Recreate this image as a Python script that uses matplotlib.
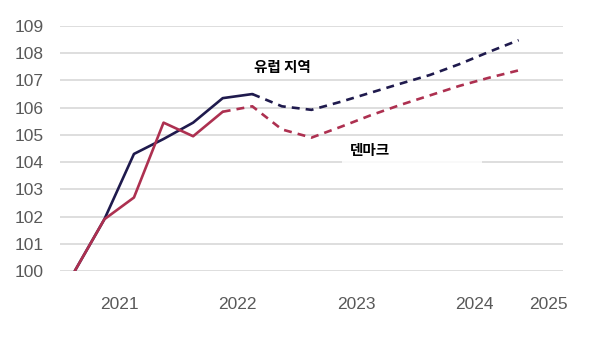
import matplotlib
matplotlib.use("Agg")
import matplotlib.pyplot as plt
from matplotlib.patches import Rectangle

# Quarterly index (2021 Q1 = 100), 2021 Q1 .. 2024 Q4; the 2025 slot is kept empty
quarters = [f"{y}Q{q}" for y in (2021, 2022, 2023, 2024) for q in (1, 2, 3, 4)] + ["2025Q1"]

euro_area = [100.0, 101.9, 104.3, 104.85, 105.45, 106.35, 106.5, 106.05,
             105.92, 106.22, 106.55, 106.88, 107.2, 107.6, 108.05, 108.48]
denmark = [100.0, 101.9, 102.7, 105.45, 104.95, 105.85, 106.05, 105.2,
           104.9, 105.3, 105.72, 106.1, 106.45, 106.8, 107.1, 107.37]

# last observed quarter for each series (forecast is dashed afterwards)
euro_last_actual = 6
dk_last_actual = 5

year_labels = ["2021", "2022", "2023", "2024", "2025"]
year_centers = [1.5, 5.5, 9.5, 13.5, 16]
y_ticks = list(range(100, 110))

navy = "#1f1a4d"
crimson = "#ad3050"

plt.rcParams["font.family"] = ["Liberation Sans", "DejaVu Sans"]

fig = plt.figure(figsize=(5.98, 3.39), dpi=100)
ax = fig.add_axes([0.1003, 0.2006, 0.8412, 0.7227])

x = list(range(len(euro_area)))

ax.plot(x[:euro_last_actual + 1], euro_area[:euro_last_actual + 1],
        color=navy, lw=1.9, solid_capstyle="round", zorder=3)
ax.plot(x[euro_last_actual:], euro_area[euro_last_actual:],
        color=navy, lw=1.9, dashes=(3, 2.3), zorder=3)

ax.plot(x[:dk_last_actual + 1], denmark[:dk_last_actual + 1],
        color=crimson, lw=1.9, solid_capstyle="round", zorder=4)
ax.plot(x[dk_last_actual:], denmark[dk_last_actual:],
        color=crimson, lw=1.9, dashes=(3, 2.3), zorder=4)

ax.set_xlim(-0.5, len(quarters) - 0.5)
ax.set_ylim(100, 109)
ax.set_yticks(y_ticks)
ax.set_yticklabels([str(v) for v in y_ticks])
ax.set_xticks(year_centers)
ax.set_xticklabels(year_labels)
ax.tick_params(axis="both", length=0, labelsize=12.5, labelcolor="#595959")
ax.tick_params(axis="y", pad=12)
ax.tick_params(axis="x", pad=19)

ax.grid(axis="y", color="#d4d4d4", lw=1.1, zorder=0)
ax.set_axisbelow(True)
for s in ax.spines.values():
    s.set_visible(False)

# label backdrop behind the Denmark series label
ax.add_patch(Rectangle((9.03, 103.9), 4.73, 0.95, facecolor="white",
                       edgecolor="none", alpha=0.85, zorder=2))

kfont = ["Noto Sans CJK KR", "DejaVu Sans"]
ax.text(7.03, 107.5, "유럽 지역", family=kfont, fontsize=10.5, fontweight="bold",
        color="black", ha="center", va="center", zorder=5)
ax.text(9.3, 104.45, "덴마크", family=kfont, fontsize=10.5, fontweight="bold",
        color="black", ha="left", va="center", zorder=5)

fig.savefig("out.png", dpi=100, facecolor="white")
